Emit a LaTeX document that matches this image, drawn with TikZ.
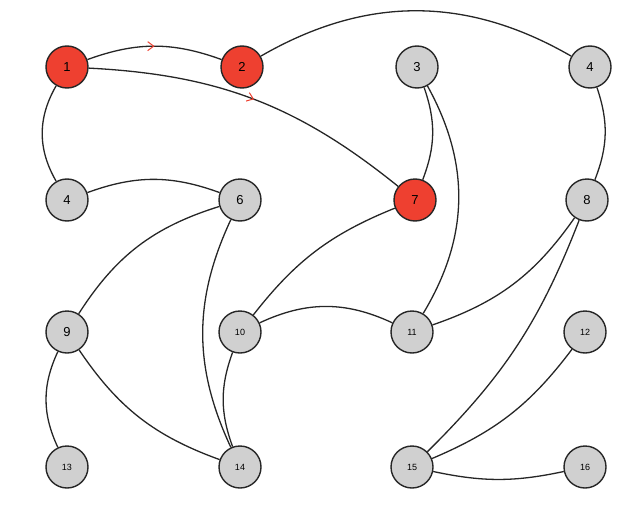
\documentclass[tikz,border=0pt]{standalone}
\usepackage{fontspec}
\setmainfont{Liberation Sans}
\usetikzlibrary{decorations.markings,arrows.meta}
\definecolor{ngray}{RGB}{208,208,208}
\definecolor{nred}{RGB}{238,64,48}
\begin{document}
\begin{tikzpicture}[x=1pt,y=-1pt,
  vtx/.style={circle,draw=black!85,line width=1.4pt,fill=ngray,minimum size=42pt,inner sep=0pt,font=\fontsize{13}{13}\selectfont},
  vsm/.style={vtx,font=\fontsize{9}{9}\selectfont},
  hot/.style={fill=nred},
  edge/.style={line width=1.3pt,black!85},
  midarrow/.style={postaction={decorate},decoration={markings,mark=at position 0.5 with {\arrow[nred,line width=1pt]{Straight Barb[length=6pt,width=9pt]}}}}]
\useasboundingbox (0,0) rectangle (642,511);
\node[vtx,hot] (n1) at (67,67) {1};
\node[vtx,hot] (n2) at (242,67) {2};
\node[vtx] (n3) at (417,67) {3};
\node[vtx] (n4t) at (590,67) {4};
\node[vtx] (n4) at (67,200) {4};
\node[vtx] (n6) at (240,200) {6};
\node[vtx,hot] (n7) at (415,200) {7};
\node[vtx] (n8) at (587,200) {8};
\node[vtx] (n9) at (67,332) {9};
\node[vsm] (n10) at (240,332) {10};
\node[vsm] (n11) at (412,332) {11};
\node[vsm] (n12) at (585,332) {12};
\node[vsm] (n13) at (67,467) {13};
\node[vsm] (n14) at (240,467) {14};
\node[vsm] (n15) at (412,467) {15};
\node[vsm] (n16) at (585,467) {16};
\draw[edge,midarrow] (n1) to[bend left=20] (n2);
\draw[edge,midarrow] (n1) to[bend left=18] (n7);
\draw[edge] (n2) to[bend left=30] (n4t);
\draw[edge] (n1) to[bend right=30] (n4);
\draw[edge] (n4) to[bend left=20] (n6);
\draw[edge] (n3) to[bend left=20] (n7);
\draw[edge] (n3) to[bend left=30] (n11);
\draw[edge] (n4t) to[bend left=20] (n8);
\draw[edge] (n6) to[bend right=20] (n9);
\draw[edge] (n6) to[bend right=25] (n14);
\draw[edge] (n9) to[bend right=18] (n14);
\draw[edge] (n9) to[bend right=25] (n13);
\draw[edge] (n7) to[bend right=15] (n10);
\draw[edge] (n10) to[bend left=25] (n11);
\draw[edge] (n10) to[bend right=20] (n14);
\draw[edge] (n8) to[bend left=18] (n11);
\draw[edge] (n8) to[bend left=12] (n15);
\draw[edge] (n12) to[bend left=15] (n15);
\draw[edge] (n15) to[bend right=12] (n16);
\end{tikzpicture}
\end{document}
